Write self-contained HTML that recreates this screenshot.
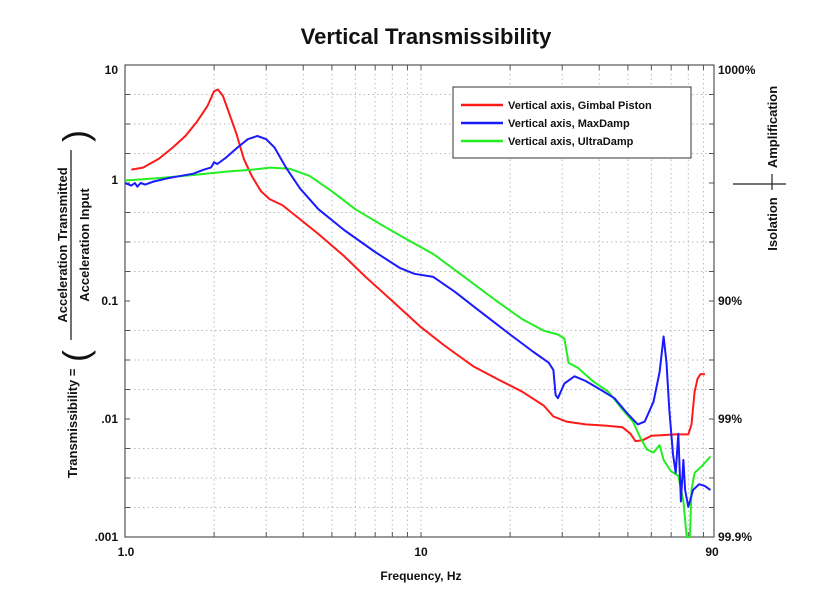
<!DOCTYPE html>
<html><head><meta charset="utf-8"><style>
html,body{margin:0;padding:0;background:#fff;}
svg{display:block;font-family:"Liberation Sans",Arial,sans-serif;font-weight:bold;}
</style></head><body>
<svg id="s" width="828" height="590" viewBox="0 0 828 590" xmlns="http://www.w3.org/2000/svg">
<rect width="828" height="590" fill="#fff"/>
<text x="426" y="44" font-size="22" text-anchor="middle" fill="#111">Vertical Transmissibility</text>
<g id="grid" stroke="#bbb" stroke-width="1" stroke-dasharray="1.5,3"></g>
<g id="ticks" stroke="#555" stroke-width="1"></g>
<rect x="125" y="65" width="589" height="472" fill="none" stroke="#555" stroke-width="1.2"/>
<g id="curves" fill="none" stroke-width="2" stroke-linejoin="round"></g>
<rect x="453" y="87" width="238" height="71" fill="#fff" stroke="#333" stroke-width="1"/>
<line x1="461" y1="105" x2="503" y2="105" stroke="#ff1a1a" stroke-width="2.5"/>
<line x1="461" y1="123" x2="503" y2="123" stroke="#1a1aff" stroke-width="2.5"/>
<line x1="461" y1="141" x2="503" y2="141" stroke="#22ee22" stroke-width="2.5"/>
<g font-size="11" fill="#111">
<text x="508" y="109">Vertical axis, Gimbal Piston</text>
<text x="508" y="127">Vertical axis, MaxDamp</text>
<text x="508" y="145">Vertical axis, UltraDamp</text>
</g>
<g font-size="12" fill="#111" text-anchor="end">
<text x="118" y="74">10</text>
<text x="118" y="184">1</text>
<text x="118" y="305">0.1</text>
<text x="118" y="423">.01</text>
<text x="118" y="541">.001</text>
</g>
<g font-size="12" fill="#111">
<text x="718" y="74">1000%</text>
<text x="718" y="305">90%</text>
<text x="718" y="423">99%</text>
<text x="718" y="541">99.9%</text>
</g>
<g font-size="12" fill="#111" text-anchor="middle">
<text x="126" y="556">1.0</text>
<text x="421" y="556">10</text>
<text x="712" y="556">90</text>
<text x="421" y="580">Frequency, Hz</text>
</g>
<g font-size="13" fill="#111" text-anchor="middle">
<text transform="translate(777,127) rotate(-90)">Amplification</text>
<text transform="translate(777,224) rotate(-90)">Isolation</text>
</g>
<line x1="733" y1="184" x2="786" y2="184" stroke="#222" stroke-width="1.2"/>
<line x1="772" y1="174" x2="772" y2="190" stroke="#222" stroke-width="1.2"/>
<g font-size="13" fill="#111">
<text transform="translate(77,478) rotate(-90)">Transmissibility =</text>
<text transform="translate(67,245) rotate(-90)" text-anchor="middle">Acceleration Transmitted</text>
<text transform="translate(89,245) rotate(-90)" text-anchor="middle">Acceleration Input</text>
<text transform="translate(88,362) rotate(-90)" font-size="36" font-weight="normal">(</text>
<text transform="translate(88,142) rotate(-90)" font-size="36" font-weight="normal">)</text>
</g>
<line x1="71" y1="150" x2="71" y2="340" stroke="#111" stroke-width="1.2"/>
</svg>
<script>
var L=125,T=65,R=714,B=537,PX=296,Y1=183,PY=118;
function X(f){return L+Math.log10(f)*PX;}
function Y(v){return Y1-Math.log10(v)*PY;}
var ns="http://www.w3.org/2000/svg";
var g=document.getElementById('grid'),tk=document.getElementById('ticks');
function ln(p,x1,y1,x2,y2){var e=document.createElementNS(ns,'line');e.setAttribute('x1',x1);e.setAttribute('y1',y1);e.setAttribute('x2',x2);e.setAttribute('y2',y2);p.appendChild(e);}
[2,3,4,5,6,7,8,9,10,20,30,40,50,60,70,80,90].forEach(function(f){var x=X(f);ln(g,x,T,x,B);ln(tk,x,B,x,B-5);ln(tk,x,T,x,T+5);});
for(var i=1;i<16;i++){var y=T+i*(B-T)/16;if(i%4==0)continue;ln(g,L,y,R,y);}
for(var i=1;i<16;i++){var y=T+i*(B-T)/16;ln(tk,L,y,L+5,y);ln(tk,R,y,R-5,y);}
var red=[[1.05,1.3],[1.15,1.35],[1.3,1.6],[1.45,2],[1.6,2.5],[1.75,3.3],[1.9,4.5],[2.0,6],[2.06,6.2],[2.14,5.5],[2.24,4],[2.38,2.6],[2.52,1.6],[2.68,1.15],[2.88,0.85],[3.08,0.73],[3.4,0.65],[3.8,0.52],[4.5,0.37],[5.5,0.24],[6.5,0.16],[8,0.1],[10,0.06],[12,0.042],[15,0.028],[18,0.022],[22,0.017],[26,0.013],[28,0.0105],[31,0.0095],[36,0.009],[42,0.0088],[48,0.0085],[51,0.0075],[53,0.0065],[56,0.0066],[60,0.0072],[66,0.0073],[72,0.0074],[80,0.0074],[82,0.009],[84,0.017],[86,0.022],[88,0.024],[91,0.024]];
var blue=[[1,1],[1.05,0.95],[1.08,1.0],[1.1,0.93],[1.13,1.0],[1.17,0.97],[1.25,1.03],[1.4,1.1],[1.55,1.15],[1.7,1.2],[1.85,1.3],[1.95,1.35],[2.0,1.5],[2.05,1.45],[2.2,1.65],[2.4,2.0],[2.6,2.35],[2.8,2.5],[3.0,2.35],[3.2,2.0],[3.5,1.35],[3.9,0.9],[4.5,0.6],[5.5,0.4],[7,0.26],[8.5,0.19],[9.5,0.17],[11,0.16],[13,0.12],[16,0.08],[20,0.052],[24,0.037],[27,0.03],[28,0.026],[28.5,0.016],[29,0.015],[30.5,0.02],[33,0.023],[36,0.021],[40,0.018],[45,0.015],[50,0.011],[54,0.009],[57,0.0095],[61,0.014],[64,0.025],[66,0.05],[67.5,0.03],[69,0.012],[71,0.005],[72.5,0.0035],[74,0.0075],[75.5,0.002],[77,0.0045],[78,0.0025],[80,0.0018],[83,0.0025],[87,0.0028],[91,0.0027],[95,0.0025]];
var green=[[1,1.05],[1.3,1.1],[1.7,1.17],[2.2,1.25],[2.7,1.3],[3.1,1.35],[3.6,1.32],[4.2,1.15],[5,0.85],[6,0.6],[7.5,0.43],[9,0.33],[11,0.25],[14,0.16],[18,0.1],[22,0.07],[26,0.056],[29,0.052],[30.5,0.048],[31.5,0.03],[34,0.027],[38,0.021],[43,0.017],[48,0.012],[52,0.0095],[55,0.007],[58,0.0055],[61,0.0052],[64,0.006],[66,0.0045],[70,0.0036],[74,0.0033],[77,0.002],[79,0.0009],[80,0.0009],[81,0.0009],[82,0.0025],[84,0.0035],[89,0.004],[95,0.0048]];
var cv=document.getElementById('curves');
[[red,'#ff1a1a'],[green,'#22ee22'],[blue,'#1a1aff']].forEach(function(s){var p=document.createElementNS(ns,'polyline');p.setAttribute('points',s[0].map(function(d){var y=Math.min(B,Y(d[1]));return X(d[0]).toFixed(1)+','+y.toFixed(1);}).join(' '));p.setAttribute('stroke',s[1]);cv.appendChild(p);});
</script>
</body></html>
